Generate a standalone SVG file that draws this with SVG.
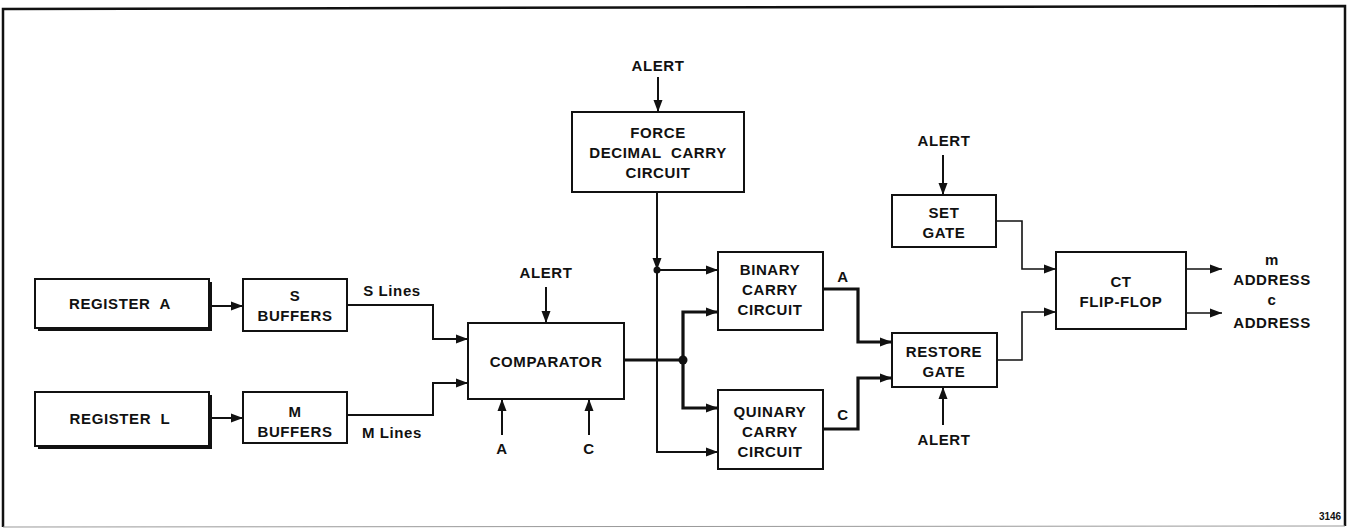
<svg xmlns="http://www.w3.org/2000/svg" width="1348" height="529" viewBox="0 0 1348 529">
<style>
  .box { fill: #fff; stroke: #111; stroke-width: 2; }
  .shadow { fill: #111; }
  .t { font-family: "Liberation Sans", Arial, sans-serif; font-weight: bold; font-size: 15px; fill: #111; text-anchor: middle; letter-spacing: 0.6px; white-space: pre; }
  .w { fill: none; stroke: #111; stroke-width: 2; }
  .thick { fill: none; stroke: #111; stroke-width: 3.2; }
  .thin { fill: none; stroke: #111; stroke-width: 1.6; }
</style>
<defs>
  <marker id="arr" markerUnits="userSpaceOnUse" markerWidth="14" markerHeight="10" refX="12" refY="5" orient="auto">
    <path d="M0,0.5 L12,5 L0,9.5 Z" fill="#111"/>
  </marker>
</defs>
<rect x="0" y="0" width="1348" height="529" fill="#fff"/>
<!-- frame -->
<path d="M3,527 L3,9 L1345,6 L1345,526" fill="none" stroke="#111" stroke-width="2.5"/>
<path d="M3,527 L1345,526" fill="none" stroke="#999" stroke-width="1"/>

<g id="register-a">
  <rect class="shadow" x="38" y="282" width="174" height="49"/>
  <rect class="box" x="35" y="279" width="174" height="49"/>
  <text class="t" x="120" y="309" xml:space="preserve">REGISTER  A</text>
</g>
<g id="register-l">
  <rect class="shadow" x="38" y="395" width="174" height="54"/>
  <rect class="box" x="35" y="392" width="174" height="54"/>
  <text class="t" x="120" y="424" xml:space="preserve">REGISTER  L</text>
</g>
<g id="s-buffers">
  <rect class="box" x="243" y="279" width="104" height="52"/>
  <text class="t" x="295" y="301">S</text>
  <text class="t" x="295" y="321">BUFFERS</text>
</g>
<g id="m-buffers">
  <rect class="box" x="243" y="392" width="104" height="51"/>
  <text class="t" x="295" y="417">M</text>
  <text class="t" x="295" y="437">BUFFERS</text>
</g>
<g id="comparator">
  <rect class="box" x="468" y="323" width="156" height="76"/>
  <text class="t" x="546" y="367">COMPARATOR</text>
</g>
<g id="force-decimal-carry">
  <rect class="box" x="572" y="112" width="172" height="80"/>
  <text class="t" x="658" y="138">FORCE</text>
  <text class="t" x="658" y="158" xml:space="preserve">DECIMAL  CARRY</text>
  <text class="t" x="658" y="178">CIRCUIT</text>
</g>
<g id="binary-carry">
  <rect class="box" x="718" y="252" width="105" height="78"/>
  <text class="t" x="770" y="275">BINARY</text>
  <text class="t" x="770" y="295">CARRY</text>
  <text class="t" x="770" y="315">CIRCUIT</text>
</g>
<g id="quinary-carry">
  <rect class="box" x="718" y="390" width="105" height="79"/>
  <text class="t" x="770" y="417">QUINARY</text>
  <text class="t" x="770" y="437">CARRY</text>
  <text class="t" x="770" y="457">CIRCUIT</text>
</g>
<g id="set-gate">
  <rect class="box" x="892" y="195" width="104" height="52"/>
  <text class="t" x="944" y="218">SET</text>
  <text class="t" x="944" y="238">GATE</text>
</g>
<g id="restore-gate">
  <rect class="box" x="892" y="333" width="105" height="54"/>
  <text class="t" x="944" y="357">RESTORE</text>
  <text class="t" x="944" y="377">GATE</text>
</g>
<g id="ct-flip-flop">
  <rect class="box" x="1056" y="252" width="130" height="77"/>
  <text class="t" x="1121" y="287">CT</text>
  <text class="t" x="1121" y="307">FLIP-FLOP</text>
</g>

<g id="labels">
  <text class="t" x="658" y="71">ALERT</text>
  <text class="t" x="546" y="278">ALERT</text>
  <text class="t" x="944" y="146">ALERT</text>
  <text class="t" x="944" y="445">ALERT</text>
  <text class="t" x="502" y="454">A</text>
  <text class="t" x="589" y="454">C</text>
  <text class="t" x="843" y="282">A</text>
  <text class="t" x="843" y="420">C</text>
  <text class="t" x="392" y="296">S Lines</text>
  <text class="t" x="392" y="438">M Lines</text>
  <text class="t" x="1272" y="265">m</text>
  <text class="t" x="1272" y="285">ADDRESS</text>
  <text class="t" x="1272" y="305">c</text>
  <text class="t" x="1272" y="328">ADDRESS</text>
  <text x="1330" y="520" style="font-family:'Liberation Sans',Arial,sans-serif;font-weight:bold;font-size:10px;fill:#111;text-anchor:middle">3146</text>
</g>

<g id="connectors">
  <!-- registers to buffers -->
  <path class="w" d="M209,306 L243,306" marker-end="url(#arr)"/>
  <path class="w" d="M209,418 L243,418" marker-end="url(#arr)"/>
  <!-- S / M lines -->
  <path class="w" d="M347,305 L433,305 L433,339 L468,339" marker-end="url(#arr)"/>
  <path class="w" d="M347,415 L433,415 L433,383 L468,383" marker-end="url(#arr)"/>
  <!-- comparator control inputs -->
  <path class="w" d="M546,287 L546,323" marker-end="url(#arr)"/>
  <path class="w" d="M502,435 L502,399" marker-end="url(#arr)"/>
  <path class="w" d="M589,435 L589,399" marker-end="url(#arr)"/>
  <!-- top alert into force -->
  <path class="w" d="M658,77 L658,112" marker-end="url(#arr)"/>
  <!-- force decimal carry down -->
  <path class="w" d="M657,192 L657,270" marker-end="url(#arr)"/>
  <path class="w" d="M657,270 L718,270" marker-end="url(#arr)"/>
  <path class="w" d="M657,270 L657,452 L718,452" marker-end="url(#arr)"/>
  <circle cx="657" cy="270" r="3.5" fill="#111"/>
  <!-- comparator output -->
  <path class="thick" d="M624,360 L683,360"/>
  <path class="thick" d="M683,360 L683,312 L718,312" marker-end="url(#arr)"/>
  <path class="thick" d="M683,360 L683,408 L718,408" marker-end="url(#arr)"/>
  <circle cx="683" cy="360" r="4.5" fill="#111"/>
  <!-- binary / quinary to restore -->
  <path class="thick" d="M823,289 L858,289 L858,342 L892,342" marker-end="url(#arr)"/>
  <path class="thick" d="M823,429 L858,429 L858,378 L892,378" marker-end="url(#arr)"/>
  <!-- alerts for gates -->
  <path class="w" d="M943,155 L943,195" marker-end="url(#arr)"/>
  <path class="w" d="M943,425 L943,387" marker-end="url(#arr)"/>
  <!-- gates to CT -->
  <path class="thin" d="M996,221 L1022,221 L1022,269 L1056,269" marker-end="url(#arr)"/>
  <path class="thin" d="M997,360 L1022,360 L1022,312 L1056,312" marker-end="url(#arr)"/>
  <!-- CT outputs -->
  <path class="thin" d="M1186,269 L1222,269" marker-end="url(#arr)"/>
  <path class="thin" d="M1186,313 L1222,313" marker-end="url(#arr)"/>
</g>
</svg>
